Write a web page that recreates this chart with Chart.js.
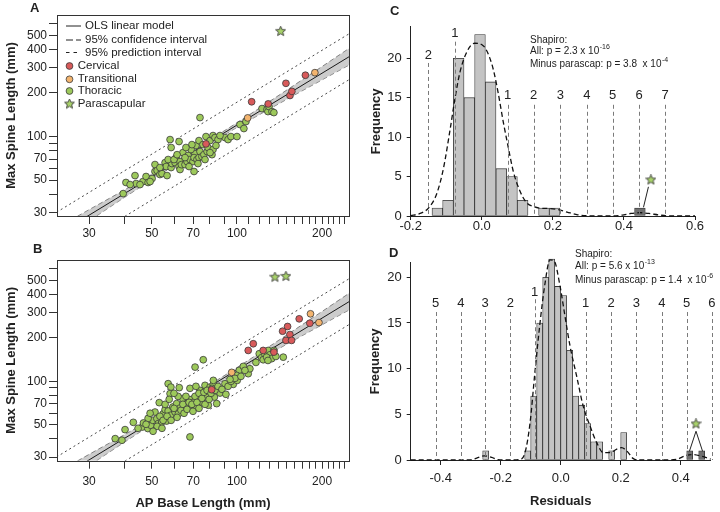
<!DOCTYPE html>
<html>
<head>
<meta charset="utf-8">
<script src="https://cdn.jsdelivr.net/npm/chart.js@4.4.1/dist/chart.umd.min.js"></script>
<style>
body{margin:0;width:720px;height:512px;overflow:hidden;background:#fff;position:relative;font-family:"Liberation Sans",Arial,sans-serif}
canvas{position:absolute}
.tag{position:absolute;font-weight:bold;font-size:13px;line-height:1;color:#222}
</style>
</head>
<body>

<canvas id="chartA" width="360" height="245" style="left:0;top:0"></canvas>
<canvas id="chartB" width="360" height="267" style="left:0;top:245px"></canvas>
<canvas id="chartC" width="360" height="240" style="left:360px;top:0"></canvas>
<canvas id="chartD" width="360" height="267" style="left:360px;top:245px"></canvas>

<div class="tag" style="left:30px;top:1px">A</div>
<div class="tag" style="left:33px;top:242px">B</div>
<div class="tag" style="left:390px;top:4px">C</div>
<div class="tag" style="left:389px;top:246px">D</div>

<script>

// ---------- panel A : AP base length (x) vs max spine length (y), mm ----------
const aThoracicX=[39.6,40.5,43.6,44.0,46.5,47.7,48.5,50.1,51.3,51.3,52.2,53.4,54.3,55.7,56.2,56.6,58.0,58.5,58.5,58.9,60.4,60.9,62.4,62.4,62.9,62.9,63.6,64.4,65.5,66.6,67.2,68.2,69.9,70.5,71.1,70.5,71.6,72.2,73.4,73.4,74.0,74.0,75.2,75.8,76.4,77.7,78.4,79.0,80.3,81.6,82.3,82.3,83.6,85.7,90.7,93.0,95.2,100,102.5,105.8,107.6,122.6,127.6,128.7,129.8,133.0,135.1,57.1,59.9,61.4,65.5,68.8,67.7,53.4,49.3,45.4,72.8,77.1,80.3,87.1,84.3,69.3,66.0,41.9]
const aThoracicY=[40.4,48.2,53.8,47.4,48.9,53.0,48.2,51.3,57.4,64.1,58.3,54.7,55.5,66.1,62.1,53.8,95.3,84.0,61.1,65.1,66.1,71.6,92.4,62.1,67.2,59.2,64.0,77.5,64.0,67.2,74.0,69.4,67.2,57.4,76.3,71.6,86.7,69.4,93.8,71.6,135.2,78.8,72.8,88.0,75.0,100,78.8,84.0,93.8,75.0,101.6,81.4,98.4,95.3,98.4,95.3,100,100,121,113.6,126.9,156,153.5,148.7,161,148.7,146.4,69.4,69.4,75.0,71.6,81.4,62.1,61.1,48.9,46.6,65.1,69.4,77.5,101.6,86.7,88.0,84.0,46.6]
const aCervicalX=[77.7,112.7,129,149,154,156.4,174.6]
const aCervicalY=[89,173.8,168,233,192,205,265]
const aTransitionalX=[109.1,188.6]
const aTransitionalY=[134.5,276]
const aParascapularX=[142.7]
const aParascapularY=[532]

// ---------- panel B ----------
const bThoracicX=[37.1,39.2,40.2,43.0,46.3,46.7,48.4,49.6,50.4,51.3,52.1,53.1,52.7,54.2,54.9,55.7,56.4,57.1,58.4,58.0,57.1,58.3,59.3,60.4,61.2,62.1,62.5,62.9,64.3,65.5,66.4,67.3,68.2,68.2,69.2,70.5,71.1,72.0,73.0,74.0,75.0,76.0,77.1,78.1,79.2,80.3,82.5,83.2,84.8,87.1,90.7,82.5,97.0,100.2,101.9,105.3,99.8,109.6,111.1,119.9,122.2,125.6,129.0,130.8,132.6,123.8,127.3,145.8,53.4,54.8,52.2,50.5,56.6,58.5,59.9,61.4,63.4,64.4,65.0,66.6,67.7,69.3,69.9,71.1,72.2,73.4,73.4,75.2,76.4,77.1,78.4,79.7,81.0,81.6,83.6,85.7,88.5,93.0,95.2,98.4,103.3,106.7,48.5,47.7,44.7,49.3,54.3,61.9,66.0,55.7,57.6,59.9,68.2,71.6,128.7,137.3,135.1,116.7,91.4,94.5]
const bThoracicY=[40.2,39.2,46.4,52.1,48.4,51.6,47.2,49.7,53.8,61.4,55.3,71.3,51.1,52.4,59.8,63.8,53.2,96.4,91.3,82.3,62.4,58.3,66.5,61.4,70.2,59.8,90.5,65.4,76.0,63.8,70.2,66.5,41.3,74.8,64.8,72.0,125.5,66.5,78.8,86.7,72.0,141.1,93.9,77.9,68.4,91.3,95.3,77.9,70.2,83.1,96.4,101.6,95.3,101.6,119.1,126.9,110.0,113.0,122.3,155.3,145.8,153.5,163.6,152.7,143.4,141.1,147.0,147.0,57.4,53.8,48.9,45.2,57.4,53.8,65.1,56.4,63.1,69.4,60.2,64.1,71.6,69.4,62.1,78.8,71.6,82.7,65.1,76.3,84.0,69.4,86.7,75.1,82.7,89.5,86.7,92.4,88.1,92.4,100,104.9,108.3,119.1,55.5,50.5,47.4,60.2,47.4,78.8,78.8,69.4,75.1,82.7,89.5,92.4,139.5,148.7,163.6,135.2,81.4,103.2]
const bCervicalX=[81.4,109.6,114.2,123.8,135.1,145,151,153.9,149,156,166,181]
const bCervicalY=[87.6,163.6,182,163.6,159.3,222.2,239.5,210.7,192,192,270.6,252.3]
const bTransitionalX=[95.8,182,195]
const bTransitionalY=[115.4,293,255]
const bParascapularX=[136.2,149]
const bParascapularY=[525,532]

const fitX=[23,250]
const fitY=[20.9,357]
const bandX=[23,30,40,55,70,100,150,200,250]
const bandHi=[23.3,31.3,42.8,61.1,80.7,124.5,209.3,304.3,408]
const bandLo=[18.7,26.2,38.0,56.8,76.4,115.6,180.6,246.2,312.5]
const piX=[23,250]
const piHi=[30.0,514]
const piLo=[14.5,248]

const logXTicks=[30,40,50,60,70,80,90,100,110,120,130,140,150,160,170,180,190,200,210,220,230,240]
const logXLabels=[30,50,70,100,200]
const logYTicks=[30,40,50,60,70,80,90,100,200,300,400,500,600]
const logYLabels=[30,50,70,100,200,300,400,500]

// ---------- panel C : residual histogram (all) ----------
const cBinMid=[-0.125,-0.095,-0.065,-0.035,-0.005,0.025,0.055,0.085,0.115,0.145,0.175,0.205,0.235,0.265,0.295,0.325,0.355,0.385,0.415]
const cCounts=[1,2,20,15,23,17,6,5,2,0,1,1,0,0,0,0,0,0,0]
const cDarkMid=[0.445]
const cDarkCounts=[1]
const cCurveX=[-0.2,-0.175,-0.15,-0.127,-0.108,-0.089,-0.075,-0.061,-0.042,-0.02,0.004,0.028,0.042,0.061,0.075,0.089,0.108,0.126,0.145,0.164,0.19,0.211,0.24,0.27,0.3,0.37,0.4,0.42,0.445,0.47,0.5,0.53,0.6]
const cCurveY=[0.05,0.3,1.0,2.8,6.0,11.0,15.0,18.3,20.8,21.9,21.6,19.3,16.6,11.8,8.6,5.6,3.1,1.7,1.2,1.0,0.95,0.85,0.5,0.15,0.03,0,0.15,0.32,0.42,0.32,0.12,0,0]
const cSdX=[-0.150,-0.076,0.073,0.146,0.221,0.296,0.368,0.443,0.516]
const cSdLabels=['2','1','1','2','3','4','5','6','7']
const cSdTop=[19.4,22.1,14.1,14.1,14.1,14.1,14.1,14.1,14.1]
const cSdLabelY=[20.3,23.1,15.35,15.35,15.35,15.35,15.35,15.35,15.35]
const cStarX=[0.476]
const cStarY=[4.58]
const cLinkX=[0.455,0.469]
const cLinkY=[1.1,3.7]
const cXTicks=[-0.2,0,0.2,0.4,0.6]
const cYTicks=[0,5,10,15,20]

// ---------- panel D : residual histogram ----------
const dBinMid=[-0.25,-0.23,-0.21,-0.19,-0.17,-0.15,-0.13,-0.11,-0.09,-0.07,-0.05,-0.03,-0.01,0.01,0.03,0.05,0.07,0.09,0.11,0.13,0.15,0.17,0.19,0.21,0.23,0.25,0.27,0.29,0.31,0.33,0.35,0.37,0.39,0.41]
const dCounts=[1,0,0,0,0,0,0,1,7,15,20,22,19,18,12,7,6,4,2,2,0,1,0,3,0,0,0,0,0,0,0,0,0,0]
const dDarkMid=[0.43,0.47]
const dDarkCounts=[1,1]
const dCurveX=[-0.5,-0.3,-0.28,-0.255,-0.23,-0.21,-0.17,-0.136,-0.119,-0.102,-0.086,-0.069,-0.052,-0.036,-0.022,-0.002,0.014,0.031,0.053,0.075,0.098,0.12,0.142,0.164,0.187,0.203,0.22,0.242,0.264,0.35,0.39,0.41,0.44,0.47,0.5]
const dCurveY=[0,0.02,0.2,0.45,0.3,0.05,0,0.05,0.8,4.1,9.6,15.0,19.4,21.9,21.8,19.0,15.8,12.5,9.2,5.9,3.7,1.9,0.8,0.8,1.2,1.35,1.0,0.15,0,0,0.1,0.4,0.6,0.4,0.1]
const dSdX=[-0.417,-0.333,-0.252,-0.168,-0.087,0.083,0.168,0.252,0.337,0.420,0.504]
const dSdLabels=['5','4','3','2','1','1','2','3','4','5','6']
const dSdTop=[16.2,16.2,16.2,16.2,17.6,16.2,16.2,16.2,16.2,16.2,16.2]
const dSdLabelY=[17.15,17.15,17.15,17.15,18.4,17.15,17.15,17.15,17.15,17.15,17.15]
const dStarX=[0.451]
const dStarY=[3.95]
const dLinkX=[0.429,0.451,0.473]
const dLinkY=[0.95,3.15,0.95]
const dXTicks=[-0.4,-0.2,0,0.2,0.4]
const dYTicks=[0,5,10,15,20]


const FONT='"Liberation Sans", Arial, sans-serif'
Chart.defaults.font.family=FONT
Chart.defaults.color='#222'
Chart.defaults.animation=false

const GREEN='#9dc95b'
const RED='#d85a5a'
const ORANGE='#f3b46e'
const EDGE='#3a3a3a'

const starImg=makeStar(11)

function makeStar(n){
const c=document.createElement('canvas')
c.width=n
c.height=n
const g=c.getContext('2d')
g.beginPath()
for(let i=0;i<10;i++){
const r=i%2?n*0.21:n*0.47
const a=-Math.PI/2+i*Math.PI/5
g.lineTo(n/2+r*Math.cos(a),n/2+r*Math.sin(a))
}
g.closePath()
g.fillStyle='#a8d26a'
g.fill()
g.strokeStyle=EDGE
g.lineWidth=0.9
g.stroke()
return c
}

function pts(xs,ys){
return xs.map((x,i)=>({x:x,y:ys[i]}))
}


// box round the scatter panels
const boxPlugin={
id:'box',
afterDraw(c){
const {ctx,chartArea:a}=c
ctx.save()
ctx.strokeStyle='#333'
ctx.lineWidth=1
ctx.strokeRect(Math.round(a.left)+0.5,Math.round(a.top)+0.5,Math.round(a.right-a.left),Math.round(a.bottom-a.top))
ctx.restore()
}
}

// legend of panel A
const keyPlugin={
id:'key',
afterDraw(c){
const ctx=c.ctx
ctx.save()
ctx.font='11.5px '+FONT
ctx.fillStyle='#222'
ctx.textBaseline='middle'
ctx.strokeStyle='#222'
ctx.lineWidth=1

const lineRows=[['OLS linear model',26,[]],['95% confidence interval',40,[7,3]],['95% prediction interval',52.5,[3.5,4]]]
lineRows.forEach(r=>{
ctx.setLineDash(r[2])
ctx.beginPath()
ctx.moveTo(66,r[1])
ctx.lineTo(81,r[1])
ctx.stroke()
ctx.fillText(r[0],85,r[1])
})
ctx.setLineDash([])

const dotRows=[['Cervical',66,RED],['Transitional',79.3,ORANGE],['Thoracic',91,GREEN]]
dotRows.forEach(r=>{
ctx.beginPath()
ctx.arc(69.5,r[1],3.4,0,Math.PI*2)
ctx.fillStyle=r[2]
ctx.fill()
ctx.lineWidth=0.8
ctx.strokeStyle=EDGE
ctx.stroke()
ctx.fillStyle='#222'
ctx.fillText(r[0],77.7,r[1])
})
ctx.drawImage(starImg,69.5-starImg.width/2,104-starImg.height/2)
ctx.fillText('Parascapular',77.7,104)
ctx.restore()
}
}


function scatterPanel(id,d,o){

const xScale={
type:'logarithmic',
min:23.1,
max:249,
afterBuildTicks:s=>{s.ticks=logXTicks.map(v=>({value:v}))},
afterFit:s=>{s.height=o.xh},
border:{display:false},
grid:{display:true,drawOnChartArea:false,drawTicks:true,tickLength:o.xtl,tickColor:'#333',tickWidth:1},
ticks:{autoSkip:false,maxRotation:0,minRotation:0,padding:o.xpad,font:{size:12},color:'#222',
callback:v=>logXLabels.includes(v)?String(v):''},
title:{display:!!o.xTitle,text:o.xTitle||'',font:{size:13,weight:'bold'},color:'#222',padding:{top:0,bottom:1}}
}

const yScale={
type:'logarithmic',
min:28.3,
max:690,
afterBuildTicks:s=>{s.ticks=logYTicks.map(v=>({value:v}))},
afterFit:s=>{s.width=57},
border:{display:false},
grid:{display:true,drawOnChartArea:false,drawTicks:true,tickLength:8,tickColor:'#333',tickWidth:1},
ticks:{autoSkip:false,padding:2,font:{size:12},color:'#222',
callback:v=>logYLabels.includes(v)?String(v):''},
title:{display:true,text:'Max Spine Length (mm)',font:{size:13,weight:'bold'},color:'#222',padding:{top:4,bottom:0}}
}

const lineBase={type:'line',pointRadius:0,fill:false,tension:0}

return new Chart(document.getElementById(id),{
type:'scatter',
data:{
datasets:[
{data:pts(d.starX,d.starY),pointStyle:starImg,pointRadius:5,order:0},
{data:pts(d.cervX,d.cervY),backgroundColor:RED,borderColor:EDGE,borderWidth:0.8,pointRadius:3.4,order:1},
{data:pts(d.tranX,d.tranY),backgroundColor:ORANGE,borderColor:EDGE,borderWidth:0.8,pointRadius:3.4,order:1},
{data:pts(d.thorX,d.thorY),backgroundColor:GREEN,borderColor:EDGE,borderWidth:0.8,pointRadius:3.4,order:2},
{...lineBase,data:pts(fitX,fitY),borderColor:'#1a1a1a',borderWidth:1,order:5},
{...lineBase,data:pts(piX,piHi),borderColor:'#333',borderWidth:0.9,borderDash:[2,3],order:6},
{...lineBase,data:pts(piX,piLo),borderColor:'#333',borderWidth:0.9,borderDash:[2,3],order:6},
{...lineBase,data:pts(bandX,bandHi),fill:'+1',backgroundColor:'rgba(170,170,170,0.6)',borderColor:'#6a6a6a',borderWidth:0.8,borderDash:[5,3],cubicInterpolationMode:'monotone',order:9},
{...lineBase,data:pts(bandX,bandLo),borderColor:'#6a6a6a',borderWidth:0.8,borderDash:[5,3],cubicInterpolationMode:'monotone',order:9}
]
},
options:{
responsive:false,
devicePixelRatio:1,
animation:false,
events:[],
layout:{padding:{left:0,top:15,right:11,bottom:0}},
plugins:{legend:{display:false},tooltip:{enabled:false}},
scales:{x:xScale,y:yScale}
},
plugins:o.key?[boxPlugin,keyPlugin]:[boxPlugin]
})
}


function sdPlugin(xs,labels,tops,labelYs){
return {
id:'sd',
afterDatasetsDraw(c){
const {ctx,scales:{x,y}}=c
ctx.save()
ctx.strokeStyle='#7a7a7a'
ctx.lineWidth=1
ctx.setLineDash([4,3])
xs.forEach((v,i)=>{
const px=Math.round(x.getPixelForValue(v))+0.5
ctx.beginPath()
ctx.moveTo(px,y.getPixelForValue(tops[i]))
ctx.lineTo(px,y.getPixelForValue(0))
ctx.stroke()
})
ctx.setLineDash([])
ctx.fillStyle='#222'
ctx.font='13px '+FONT
ctx.textAlign='center'
ctx.textBaseline='middle'
xs.forEach((v,i)=>{
ctx.fillText(labels[i],x.getPixelForValue(v),y.getPixelForValue(labelYs[i]))
})
ctx.restore()
}
}
}

function statsPlugin(x0,rows){
return {
id:'stats',
afterDraw(c){
const ctx=c.ctx
ctx.save()
ctx.fillStyle='#222'
ctx.textAlign='left'
ctx.textBaseline='middle'
rows.forEach(r=>{
ctx.font='10px '+FONT
ctx.fillText(r[0],x0,r[2])
if(r[1]){
const w=ctx.measureText(r[0]).width
ctx.font='7px '+FONT
ctx.fillText(r[1],x0+w+0.5,r[2]-4)
}
})
ctx.restore()
}
}
}


function histPanel(id,d,o){

const barBase={type:'bar',grouped:false,barPercentage:1,categoryPercentage:1,borderColor:'#333',borderWidth:0.8,borderSkipped:false,clip:false}

return new Chart(document.getElementById(id),{
type:'bar',
data:{
datasets:[
{type:'scatter',data:pts(d.starX,d.starY),pointStyle:starImg,pointRadius:5,order:0,clip:false},
{type:'line',data:pts(d.linkX,d.linkY),borderColor:'#222',borderWidth:1,pointRadius:0,fill:false,order:1},
{type:'line',data:pts(d.curveX,d.curveY),borderColor:'#111',borderWidth:1.3,borderDash:[5,3],pointRadius:0,fill:false,cubicInterpolationMode:'monotone',order:2,clip:false},
{...barBase,data:pts(d.darkMid,d.darkCounts),backgroundColor:'#707070',order:3},
{...barBase,data:pts(d.binMid,d.counts),backgroundColor:'#c4c4c4',order:4}
]
},
options:{
responsive:false,
devicePixelRatio:1,
animation:false,
events:[],
layout:{padding:o.pad},
plugins:{legend:{display:false},tooltip:{enabled:false}},
scales:{
x:{
type:'linear',
min:o.xmin,
max:o.xmax,
offset:false,
afterBuildTicks:s=>{s.ticks=d.xTicks.map(v=>({value:v}))},
afterFit:s=>{s.height=o.xh},
border:{display:true,color:'#222',width:1},
grid:{display:true,offset:false,drawOnChartArea:false,tickLength:o.xtl,tickColor:'#222'},
ticks:{autoSkip:false,maxRotation:0,padding:o.xpad,font:{size:13,lineHeight:1},color:'#222',callback:v=>v.toFixed(1)},
title:{display:!!o.xTitle,text:o.xTitle||'',font:{size:13,weight:'bold'},color:'#222',padding:{top:0,bottom:o.xTitlePad||0}}
},
y:{
type:'linear',
min:0,
max:o.ymax,
afterBuildTicks:s=>{s.ticks=d.yTicks.map(v=>({value:v}))},
afterFit:s=>{s.width=50.7},
border:{display:true,color:'#222',width:1},
grid:{display:true,drawOnChartArea:false,tickLength:4,tickColor:'#222'},
ticks:{padding:5,font:{size:13},color:'#222'},
title:{display:true,text:'Frequency',font:{size:13,weight:'bold'},color:'#222',padding:{top:o.yTitlePad,bottom:0}}
}
}
},
plugins:[sdPlugin(d.sdX,d.sdLabels,d.sdTop,d.sdLabelY),statsPlugin(o.statX,o.stats)]
})
}


scatterPanel('chartA',{
thorX:aThoracicX,thorY:aThoracicY,cervX:aCervicalX,cervY:aCervicalY,
tranX:aTransitionalX,tranY:aTransitionalY,starX:aParascapularX,starY:aParascapularY
},{xh:29,xtl:8,xpad:2,key:true})

scatterPanel('chartB',{
thorX:bThoracicX,thorY:bThoracicY,cervX:bCervicalX,cervY:bCervicalY,
tranX:bTransitionalX,tranY:bTransitionalY,starX:bParascapularX,starY:bParascapularY
},{xh:51.3,xtl:8,xpad:6,xTitle:'AP Base Length (mm)'})

histPanel('chartC',{
binMid:cBinMid,counts:cCounts,darkMid:cDarkMid,darkCounts:cDarkCounts,
curveX:cCurveX,curveY:cCurveY,starX:cStarX,starY:cStarY,linkX:cLinkX,linkY:cLinkY,
sdX:cSdX,sdLabels:cSdLabels,sdTop:cSdTop,sdLabelY:cSdLabelY,xTicks:cXTicks,yTicks:cYTicks
},{
pad:{left:0,top:26.7,right:25,bottom:0},xmin:-0.2,xmax:0.6,ymax:24,
xh:24,xtl:4,xpad:0,yTitlePad:9,
statX:170,stats:[['Shapiro:','',40],['All: p = 2.3 x 10','-16',51],['Minus parascap: p = 3.8  x 10','-4',64]]
})

histPanel('chartD',{
binMid:dBinMid,counts:dCounts,darkMid:dDarkMid,darkCounts:dDarkCounts,
curveX:dCurveX,curveY:dCurveY,starX:dStarX,starY:dStarY,linkX:dLinkX,linkY:dLinkY,
sdX:dSdX,sdLabels:dSdLabels,sdTop:dSdTop,sdLabelY:dSdLabelY,xTicks:dXTicks,yTicks:dYTicks
},{
pad:{left:0,top:17.7,right:9.3,bottom:0},xmin:-0.5,xmax:0.5,ymax:21.6,
xh:52,xtl:5,xpad:7,xTitle:'Residuals',xTitlePad:2.5,yTitlePad:7.2,
statX:215,stats:[['Shapiro:','',9],['All: p = 5.6 x 10','-13',21],['Minus parascap: p = 1.4  x 10','-6',35]]
})

</script>
</body>
</html>
